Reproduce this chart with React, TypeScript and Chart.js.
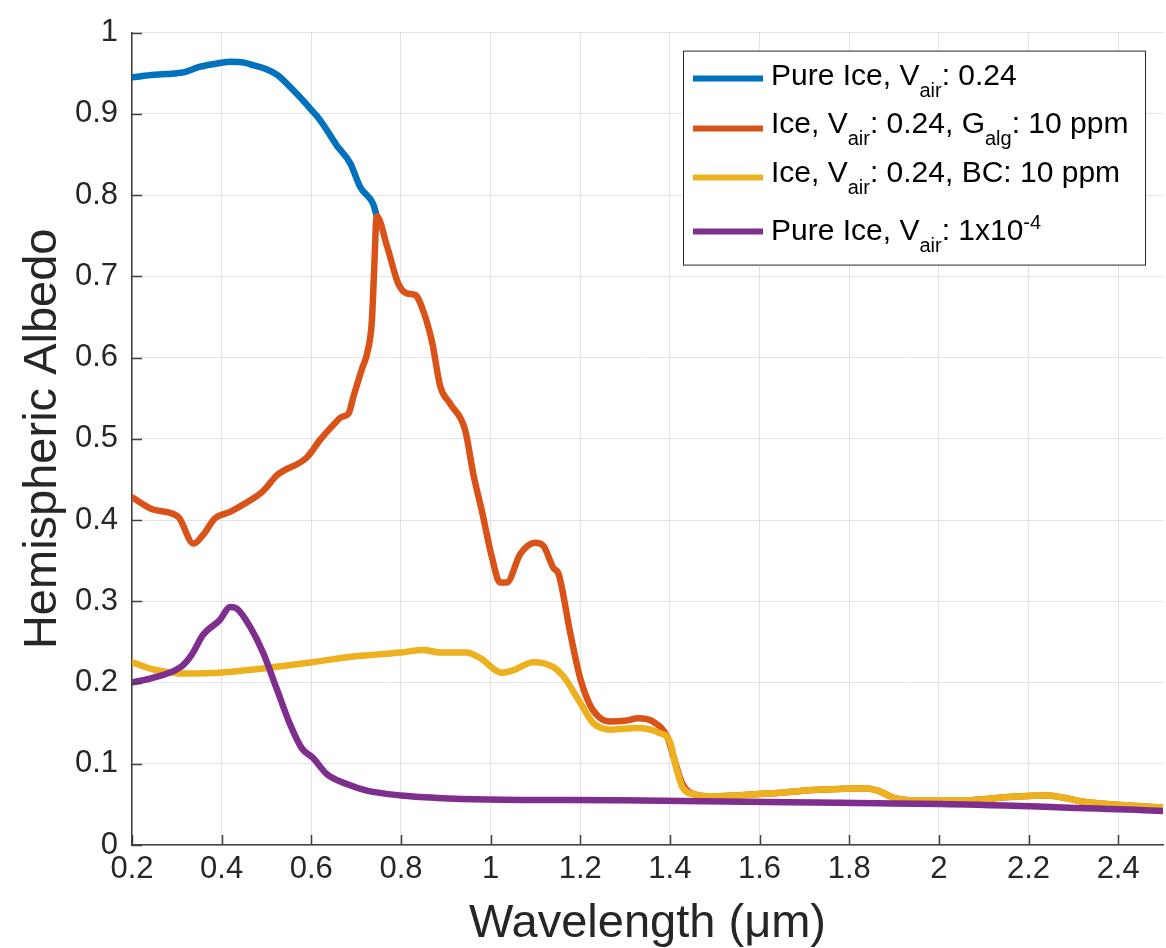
import React, { useEffect, useRef } from "react";
import { Chart, registerables } from "chart.js";

Chart.register(...registerables);

// ---- data ----
const pureIceX = [0.2, 0.25, 0.3, 0.314, 0.352, 0.38, 0.419, 0.45, 0.47, 0.5, 0.524, 0.56, 0.6, 0.62, 0.657, 0.687, 0.709, 0.738, 0.746];
const pureIceY = [0.945, 0.948, 0.95, 0.951, 0.958, 0.961, 0.964, 0.963, 0.96, 0.955, 0.948, 0.929, 0.905, 0.892, 0.861, 0.839, 0.81, 0.789, 0.774];

const algaeX = [0.2, 0.247, 0.303, 0.337, 0.359, 0.385, 0.419, 0.448, 0.493, 0.523, 0.59, 0.62, 0.649, 0.668, 0.683, 0.694, 0.713, 0.724, 0.735, 0.74, 0.746, 0.769, 0.794, 0.813, 0.832, 0.85, 0.869, 0.888, 0.91, 0.943, 0.962, 0.981, 1.003, 1.021, 1.036, 1.066, 1.1, 1.118, 1.14, 1.152, 1.178, 1.2, 1.222, 1.245, 1.267, 1.3, 1.33, 1.362, 1.394, 1.409, 1.428, 1.457];
const algaeY = [0.428, 0.413, 0.404, 0.371, 0.382, 0.402, 0.41, 0.419, 0.436, 0.455, 0.477, 0.499, 0.517, 0.527, 0.531, 0.552, 0.586, 0.604, 0.644, 0.705, 0.774, 0.737, 0.691, 0.679, 0.677, 0.657, 0.62, 0.564, 0.543, 0.511, 0.455, 0.41, 0.354, 0.323, 0.323, 0.358, 0.372, 0.368, 0.341, 0.333, 0.26, 0.205, 0.172, 0.156, 0.152, 0.153, 0.156, 0.152, 0.133, 0.107, 0.075, 0.062];

const bcX = [0.2, 0.248, 0.322, 0.396, 0.47, 0.601, 0.694, 0.8, 0.85, 0.887, 0.947, 0.977, 1.025, 1.05, 1.095, 1.14, 1.162, 1.2, 1.229, 1.27, 1.324, 1.376, 1.4, 1.414, 1.428, 1.457];
const bcY = [0.225, 0.216, 0.211, 0.212, 0.216, 0.225, 0.232, 0.237, 0.24, 0.237, 0.237, 0.23, 0.212, 0.215, 0.225, 0.219, 0.208, 0.175, 0.15, 0.142, 0.144, 0.138, 0.127, 0.095, 0.071, 0.062];

// beyond ~1.46 um the algae and BC curves coincide
const tailX = [1.495, 1.608, 1.731, 1.834, 1.864, 1.9, 1.948, 2.061, 2.155, 2.241, 2.326, 2.5];
const tailY = [0.06, 0.063, 0.068, 0.07, 0.067, 0.058, 0.055, 0.055, 0.059, 0.061, 0.053, 0.046];

const bubbleFreeX = [0.2, 0.248, 0.311, 0.333, 0.359, 0.396, 0.419, 0.434, 0.463, 0.493, 0.523, 0.553, 0.579, 0.604, 0.635, 0.679, 0.724, 0.8, 0.88, 0.992, 1.289, 1.778, 2.061, 2.5];
const bubbleFreeY = [0.2, 0.206, 0.22, 0.234, 0.259, 0.277, 0.293, 0.291, 0.269, 0.236, 0.192, 0.148, 0.119, 0.107, 0.087, 0.075, 0.067, 0.061, 0.058, 0.056, 0.055, 0.052, 0.05, 0.042];

const xTicks = [0.2, 0.4, 0.6, 0.8, 1.0, 1.2, 1.4, 1.6, 1.8, 2.0, 2.2, 2.4];
const yTicks = [0, 0.1, 0.2, 0.3, 0.4, 0.5, 0.6, 0.7, 0.8, 0.9, 1.0];

const xTitle = "Wavelength (μm)";
const yTitle = "Hemispheric Albedo";

const seriesColors = ["#0072BD", "#D95319", "#EDB120", "#7E2F8E"];

// legend entries: [text, kind] where kind is "n" normal, "sub" subscript, "sup" superscript
const legendRows: [string, string][][] = [
  [["Pure Ice, V", "n"], ["air", "sub"], [": 0.24", "n"]],
  [["Ice, V", "n"], ["air", "sub"], [": 0.24, G", "n"], ["alg", "sub"], [": 10 ppm", "n"]],
  [["Ice, V", "n"], ["air", "sub"], [": 0.24, BC: 10 ppm", "n"]],
  [["Pure Ice, V", "n"], ["air", "sub"], [": 1x10", "n"], ["-4", "sup"]],
];

const FONT = "'Liberation Sans', Arial, Helvetica, sans-serif";
const TEXT = "#262626";

function pts(xs: number[], ys: number[]) {
  return xs.map((x, i) => ({ x, y: ys[i] }));
}

const innerTicksPlugin = {
  id: "innerTicks",
  afterDatasetsDraw(chart: any) {
    const { ctx, chartArea, scales } = chart;
    ctx.save();
    ctx.strokeStyle = "#404040";
    ctx.lineWidth = 1.5;
    ctx.beginPath();
    xTicks.forEach((v) => {
      const px = Math.round(scales.x.getPixelForValue(v)) + 0.5;
      ctx.moveTo(px, chartArea.bottom);
      ctx.lineTo(px, chartArea.bottom - 10);
    });
    yTicks.forEach((v) => {
      const py = Math.round(scales.y.getPixelForValue(v)) + 0.5;
      ctx.moveTo(chartArea.left, py);
      ctx.lineTo(chartArea.left + 10, py);
    });
    ctx.stroke();
    ctx.restore();
  },
};

const legendPlugin = {
  id: "matlabLegend",
  afterDraw(chart: any) {
    const { ctx, chartArea } = chart;
    const boxR = chartArea.right - 17;
    const boxL = boxR - 463;
    const boxT = chartArea.top + 18;
    const boxH = 215;
    ctx.save();
    ctx.fillStyle = "#ffffff";
    ctx.fillRect(boxL, boxT, boxR - boxL, boxH);
    ctx.strokeStyle = "#262626";
    ctx.lineWidth = 1;
    ctx.strokeRect(boxL + 0.5, boxT + 0.5, boxR - boxL - 1, boxH - 1);
    const lineYs = [28, 78, 127, 181];
    const baseYs = [34, 82, 131, 189];
    legendRows.forEach((row, i) => {
      const ly = boxT + lineYs[i];
      ctx.strokeStyle = seriesColors[i];
      ctx.lineWidth = 6;
      ctx.beginPath();
      ctx.moveTo(boxL + 10, ly);
      ctx.lineTo(boxL + 80, ly);
      ctx.stroke();
      let x = boxL + 88;
      const by = boxT + baseYs[i];
      ctx.fillStyle = "#000000";
      ctx.textBaseline = "alphabetic";
      ctx.textAlign = "left";
      row.forEach(([t, kind]) => {
        if (kind === "n") {
          ctx.font = `30px ${FONT}`;
          ctx.fillText(t, x, by);
        } else if (kind === "sub") {
          ctx.font = `20px ${FONT}`;
          ctx.fillText(t, x, by + 12);
        } else {
          ctx.font = `20px ${FONT}`;
          ctx.fillText(t, x, by - 11);
        }
        x += ctx.measureText(t).width;
      });
    });
    ctx.restore();
  },
};

export default function App() {
  const canvasRef = useRef<HTMLCanvasElement | null>(null);

  useEffect(() => {
    if (!canvasRef.current) return;
    const common = {
      pointRadius: 0,
      pointHoverRadius: 0,
      borderWidth: 6.5,
      fill: false,
      cubicInterpolationMode: "monotone" as const,
      borderJoinStyle: "round" as const,
      borderCapStyle: "round" as const,
    };
    const chart = new Chart(canvasRef.current, {
      type: "line",
      data: {
        datasets: [
          { ...common, label: "Pure Ice, Vair: 0.24", data: pts(pureIceX, pureIceY), borderColor: seriesColors[0], order: 4 },
          { ...common, label: "Ice, Vair: 0.24, Galg: 10 ppm", data: pts(algaeX.concat(tailX), algaeY.concat(tailY)), borderColor: seriesColors[1], order: 3 },
          { ...common, label: "Ice, Vair: 0.24, BC: 10 ppm", data: pts(bcX.concat(tailX), bcY.concat(tailY)), borderColor: seriesColors[2], order: 2 },
          { ...common, label: "Pure Ice, Vair: 1x10^-4", data: pts(bubbleFreeX, bubbleFreeY), borderColor: seriesColors[3], order: 1 },
        ],
      },
      options: {
        animation: false,
        responsive: false,
        maintainAspectRatio: false,
        layout: { padding: { top: 20, right: 3, left: 0, bottom: 0 } },
        plugins: {
          legend: { display: false },
          tooltip: { enabled: false },
        },
        scales: {
          x: {
            type: "linear",
            min: 0.2,
            max: 2.5,
            afterBuildTicks: (scale: any) => {
              scale.ticks = xTicks.map((v) => ({ value: v }));
            },
            afterFit: (scale: any) => {
              scale.height = 103;
            },
            grid: { color: "#e3e3e3", lineWidth: 1, drawTicks: false },
            border: { display: true, color: "#404040", width: 1.5 },
            ticks: {
              padding: 6,
              color: TEXT,
              font: { family: FONT, size: 31 },
              maxRotation: 0,
              autoSkip: false,
              callback: (v: any) => String(Number(Number(v).toFixed(1))),
            },
            title: {
              display: true,
              text: xTitle,
              color: TEXT,
              font: { family: FONT, size: 47, lineHeight: 1 },
              padding: { top: 0, bottom: 0 },
            },
          },
          y: {
            type: "linear",
            min: 0,
            max: 1,
            afterBuildTicks: (scale: any) => {
              scale.ticks = yTicks.map((v) => ({ value: v }));
            },
            afterFit: (scale: any) => {
              scale.width = 132;
            },
            grid: { color: "#e3e3e3", lineWidth: 1, drawTicks: false },
            border: { display: true, color: "#404040", width: 1.5 },
            ticks: {
              padding: 14,
              color: TEXT,
              font: { family: FONT, size: 31 },
              autoSkip: false,
              callback: (v: any) => String(Number(Number(v).toFixed(1))),
            },
            title: {
              display: true,
              text: yTitle,
              color: TEXT,
              font: { family: FONT, size: 47, lineHeight: 1 },
              padding: { top: 20, bottom: 0 },
            },
          },
        },
      },
      plugins: [innerTicksPlugin, legendPlugin],
    });
    return () => chart.destroy();
  }, []);

  return (
    <div style={{ position: "absolute", left: 0, top: 0, width: 1166, height: 948, background: "#ffffff" }}>
      <canvas ref={canvasRef} width={1166} height={948} style={{ display: "block" }} />
    </div>
  );
}
